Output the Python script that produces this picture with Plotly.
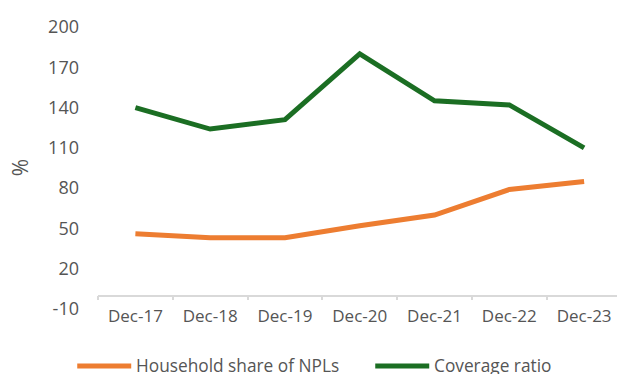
import plotly.graph_objects as go

# Source data
periods = ["Dec-17", "Dec-18", "Dec-19", "Dec-20", "Dec-21", "Dec-22", "Dec-23"]
household_share = [46, 43, 43, 52, 60, 79, 85]
coverage_ratio = [140, 124, 131, 180, 145, 142, 110]
series_names = ["Household share of NPLs", "Coverage ratio"]
series_colors = ["#ED7D31", "#1B6E23"]
y_ticks = [-10, 20, 50, 80, 110, 140, 170, 200]
y_tick_text = ["-10", "20", "50", "80", "110", "140", "170", "200"]

TEXT = "#555555"
FONT = "Open Sans"

fig = go.Figure()
for name, vals, col in zip(series_names, [household_share, coverage_ratio], series_colors):
    fig.add_trace(go.Scatter(
        x=periods, y=vals, name=name, mode="lines",
        line=dict(color=col, width=5), showlegend=False,
    ))

# Legend drawn below the plot: line sample + label per series
legend_y = -0.202
legend_items = [-0.0400, 0.5342]
for x0, name, col in zip(legend_items, series_names, series_colors):
    fig.add_shape(type="line", xref="paper", yref="paper",
                  x0=x0, x1=x0 + 0.1040, y0=legend_y, y1=legend_y,
                  line=dict(color=col, width=5))
    fig.add_annotation(xref="paper", yref="paper", x=x0 + 0.1098, y=legend_y,
                       text=name, showarrow=False, xanchor="left", yanchor="middle",
                       font=dict(family=FONT, size=17.3, color=TEXT))

# Y axis title
fig.add_annotation(xref="paper", yref="paper", x=-0.1496, y=0.5, text="%",
                   textangle=-90, showarrow=False, xanchor="center", yanchor="middle",
                   font=dict(family=FONT, size=21, color=TEXT))

fig.update_layout(
    width=617, height=374,
    margin=dict(l=98, r=0, t=27, b=65),
    paper_bgcolor="white", plot_bgcolor="white",
    font=dict(family=FONT, size=18, color=TEXT),
    xaxis=dict(
        type="category", range=[-0.5, 6.44],
        anchor="free", position=10 / 210,
        showline=True, linecolor="#D9D9D9", linewidth=1.5,
        ticks="outside", tickson="boundaries", ticklen=4, tickcolor="#D9D9D9",
        tickwidth=1.5, showgrid=False, zeroline=False,
        ticklabelstandoff=5,
        tickfont=dict(family=FONT, size=17, color=TEXT),
    ),
    yaxis=dict(
        range=[-10, 200], tickvals=y_ticks, ticktext=y_tick_text,
        showgrid=False, zeroline=False, showline=False,
        ticks="", ticklabelstandoff=18,
        tickfont=dict(family=FONT, size=18, color=TEXT),
    ),
)

fig.write_html("out.html")
